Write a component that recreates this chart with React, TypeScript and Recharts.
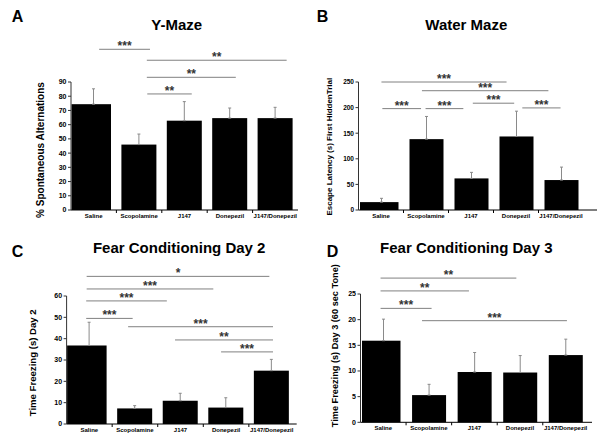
import React from "react";
import { BarChart, Bar, XAxis, YAxis, ErrorBar, ReferenceLine } from "recharts";

const FONT = "Arial, 'Liberation Sans', Helvetica, sans-serif";

const groups = ["Saline", "Scopolamine", "J147", "Donepezil", "J147/Donepezil"];

// A - Y-Maze
const yMazeMeans = [74.4, 46, 62.8, 64.6, 64.6];
const yMazeErr = [10.8, 7.4, 13.4, 7.1, 7.6];
const yMazeTicks = [0, 10, 20, 30, 40, 50, 60, 70, 80, 90];
// [from, to, height, stars]
const yMazeSig: [number, number, number, string][] = [
  [0.62, 1.74, 113, "***"],
  [1.67, 4.75, 105.3, "**"],
  [1.67, 3.63, 93.3, "**"],
  [1.68, 2.66, 81.6, "**"],
];

// B - Water Maze
const waterMeans = [15.4, 138.4, 61.7, 143.6, 58.5];
const waterErr = [7.4, 44.3, 11.8, 49.4, 25.3];
const waterTicks = [0, 50, 100, 150, 200, 250];
const waterSig: [number, number, number, string][] = [
  [0.51, 3.29, 250, "***"],
  [1.41, 4.22, 233, "***"],
  [0.53, 1.39, 198, "***"],
  [1.49, 2.33, 198, "***"],
  [2.54, 3.46, 208.6, "***"],
  [3.64, 4.49, 199.4, "***"],
];

// C - Fear conditioning day 2
const fear2Means = [36.8, 7.3, 10.9, 7.7, 25];
const fear2Err = [10.9, 1.3, 3.5, 4.6, 5.3];
const fear2Ticks = [0, 10, 20, 30, 40, 50, 60];
const fear2Sig: [number, number, number, string][] = [
  [0.44, 4.45, 69.2, "*"],
  [0.44, 3.22, 63.3, "***"],
  [0.43, 2.2, 57.7, "***"],
  [0.43, 1.45, 49.5, "***"],
  [1.35, 4.53, 45.6, "***"],
  [2.38, 4.53, 39.4, "**"],
  [3.39, 4.53, 33.8, "***"],
];

// D - Fear conditioning day 3
const fear3Means = [15.9, 5.3, 9.8, 9.7, 13.1];
const fear3Err = [4.2, 2.1, 3.8, 3.3, 3.1];
const fear3Ticks = [0, 5, 10, 15, 20, 25];
const fear3Sig: [number, number, number, string][] = [
  [0.44, 3.42, 28.1, "**"],
  [0.44, 2.38, 25.6, "**"],
  [0.44, 1.56, 22.2, "***"],
  [1.35, 4.53, 19.8, "***"],
];

const xTicks = [0.5, 1, 1.5, 2, 2.5, 3, 3.5, 4, 4.5];

function XTick(props: any) {
  const { x, y, payload } = props;
  const v = payload.value;
  if (Number.isInteger(v)) {
    return <line x1={x} y1={y} x2={x} y2={y + 3} stroke="#000" strokeWidth={1} />;
  }
  return (
    <text x={x} y={y + 8} textAnchor="middle" fontSize={6} fontWeight="bold" fontFamily={FONT} fill="#000">
      {groups[Math.round(v - 0.5)]}
    </text>
  );
}

function Panel(p: any) {
  const data = p.means.map((m: number, i: number) => ({ pos: i + 0.5, mean: m, err: [0, p.errs[i]] }));
  return (
    <div style={{ position: "absolute", left: p.x, top: p.y, width: 300, height: 224 }}>
      <BarChart
        width={300}
        height={224}
        data={data}
        margin={{ top: p.plotTop, right: 300 - p.plotRight, bottom: 0, left: 0 }}
      >
        <XAxis
          dataKey="pos"
          type="number"
          domain={[0, p.xMax]}
          ticks={xTicks}
          interval={0}
          tickSize={0}
          tickMargin={0}
          height={224 - p.plotBottom}
          tick={<XTick />}
          tickLine={false}
          axisLine={{ stroke: "#000" }}
          allowDataOverflow
        />
        <YAxis
          type="number"
          domain={p.yDomain}
          ticks={p.yTicks}
          interval={0}
          width={p.plotLeft}
          tickSize={3}
          tickMargin={1.5}
          tick={{ fontSize: p.tickFont, fontWeight: "bold", fill: "#000", fontFamily: FONT }}
          axisLine={{ stroke: "#333" }}
          tickLine={{ stroke: "#333" }}
        />
        <Bar
          dataKey="mean"
          fill="#000"
          barSize={p.barSize}
          isAnimationActive={false}
          shape={(s: any) => {
            const extra = s.index === 0 ? 4.5 : 0;
            return <rect x={s.x - extra} y={s.y} width={s.width + extra} height={s.height} fill="#000" />;
          }}
        >
          <ErrorBar dataKey="err" direction="y" width={1.5} stroke="#8a8a8a" strokeWidth={1} isAnimationActive={false} />
        </Bar>
        {p.sig.map((s: [number, number, number, string], i: number) => (
          <ReferenceLine
            key={i}
            segment={[{ x: s[0], y: s[2] }, { x: s[1], y: s[2] }]}
            stroke="#808080"
            strokeWidth={1}
            ifOverflow="visible"
            label={{ value: s[3], position: "top", offset: -1, fill: "#333", fontSize: 12, fontWeight: "bold", fontFamily: FONT }}
          />
        ))}
      </BarChart>
    </div>
  );
}

const titleStyle = { fontFamily: FONT, fontWeight: "bold" as const, fill: "#000" };

export default function App() {
  return (
    <div style={{ position: "absolute", left: 0, top: 0, width: 600, height: 448, background: "#fff", overflow: "hidden" }}>
      <Panel x={0} y={0} means={yMazeMeans} errs={yMazeErr} yDomain={[0, 90]} yTicks={yMazeTicks} sig={yMazeSig}
        plotLeft={71} plotRight={298} plotTop={82} plotBottom={210} xMax={5} barSize={35} tickFont={7} />
      <Panel x={300} y={0} means={waterMeans} errs={waterErr} yDomain={[0, 250]} yTicks={waterTicks} sig={waterSig}
        plotLeft={58.5} plotRight={297} plotTop={82} plotBottom={210} xMax={5.3} barSize={34} tickFont={6.5} />
      <Panel x={0} y={224} means={fear2Means} errs={fear2Err} yDomain={[0, 60]} yTicks={fear2Ticks} sig={fear2Sig}
        plotLeft={66.6} plotRight={296.7} plotTop={72} plotBottom={200} xMax={5.05} barSize={35} tickFont={7} />
      <Panel x={300} y={224} means={fear3Means} errs={fear3Err} yDomain={[0, 25]} yTicks={fear3Ticks} sig={fear3Sig}
        plotLeft={60.5} plotRight={292} plotTop={70} plotBottom={198.3} xMax={5.08} barSize={34} tickFont={7} />
      <svg width={600} height={448} style={{ position: "absolute", left: 0, top: 0, pointerEvents: "none" }}>
        <text x={11.7} y={21.7} fontSize={16} {...titleStyle}>A</text>
        <text x={176.7} y={30} fontSize={15} textAnchor="middle" {...titleStyle}>Y-Maze</text>
        <text x={316.7} y={21.7} fontSize={16} {...titleStyle}>B</text>
        <text x={466.3} y={29.5} fontSize={15} textAnchor="middle" {...titleStyle}>Water Maze</text>
        <text x={11.7} y={257.3} fontSize={16} {...titleStyle}>C</text>
        <text x={179.2} y={253} fontSize={15} textAnchor="middle" {...titleStyle}>Fear Conditioning Day 2</text>
        <text x={326.7} y={257.3} fontSize={16} {...titleStyle}>D</text>
        <text x={466.3} y={253} fontSize={15} textAnchor="middle" {...titleStyle}>Fear Conditioning Day 3</text>
        <text transform="translate(44,150) rotate(-90)" fontSize={10} textAnchor="middle" {...titleStyle}>% Spontaneous Alternations</text>
        <text transform="translate(331.6,146.7) rotate(-90)" fontSize={8} textAnchor="middle" {...titleStyle}>Escape Latency (s) First HiddenTrial</text>
        <text transform="translate(36.3,362.8) rotate(-90)" fontSize={9.6} textAnchor="middle" {...titleStyle}>Time Freezing (s) Day 2</text>
        <text transform="translate(338,345.7) rotate(-90)" fontSize={9.2} textAnchor="middle" {...titleStyle}>Time Freezing (s) Day 3 (60 sec Tone)</text>
      </svg>
    </div>
  );
}
